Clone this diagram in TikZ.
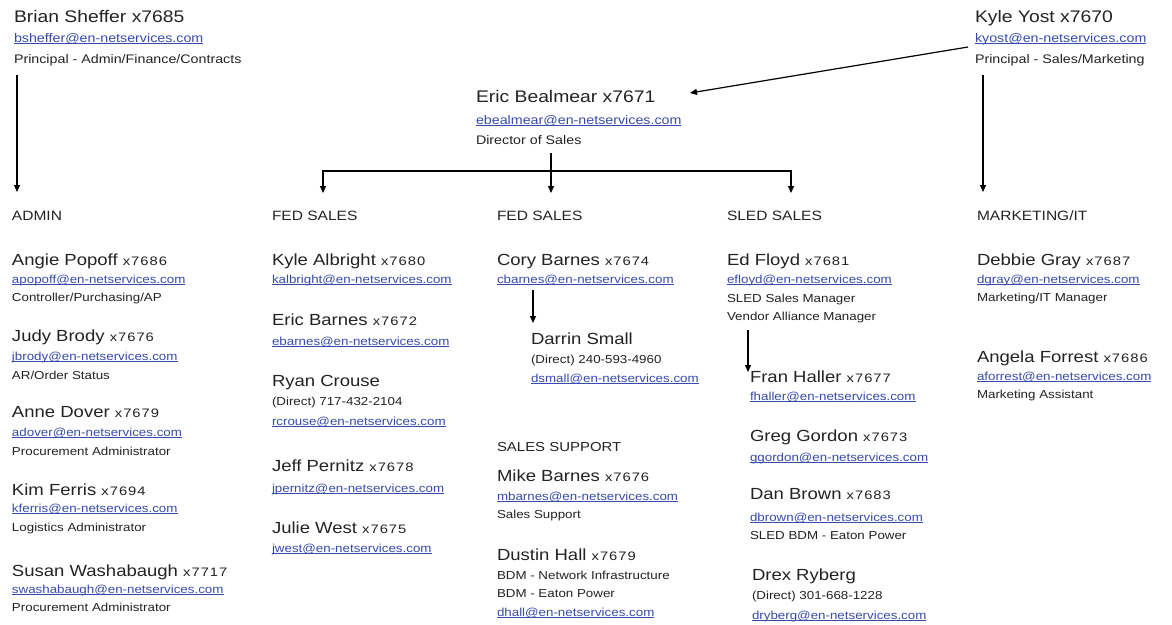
\documentclass[tikz,border=0pt]{standalone}
\usepackage{fontspec}
\setmainfont{Liberation Sans}[FakeStretch=1.15]
\newfontfamily\extfont{Liberation Sans}[FakeStretch=1.2,LetterSpace=8]
\usetikzlibrary{arrows.meta,calc}
\definecolor{txt}{RGB}{35,35,35}
\definecolor{lnk}{RGB}{55,75,170}
\newcommand{\extn}[1]{{\extfont\fontsize{12.3}{14}\selectfont #1}}
\newcommand{\mailto}[1]{\underline{\smash{#1}}}
\tikzset{
  basetext/.style={anchor=base west, inner sep=0pt, outer sep=0pt, text=txt},
  bigname/.style={basetext, font=\fontsize{16.8}{20}\selectfont},
  pname/.style={basetext, font=\fontsize{16.1}{18}\selectfont},
  topline/.style={basetext, font=\fontsize{12.4}{14}\selectfont},
  subline/.style={basetext, font=\fontsize{11.6}{14}\selectfont},
  mail/.style={text=lnk},
  dept/.style={basetext, font=\fontsize{13.5}{16}\selectfont},
  conn/.style={draw=black, line width=1.2pt, -{Triangle[length=7pt,width=6pt]}},
  conn2/.style={draw=black, line width=1.2pt, {Triangle[length=7pt,width=6pt]}-{Triangle[length=7pt,width=6pt]}},
}
\begin{document}
\begin{tikzpicture}[x=1pt,y=-1pt]
\useasboundingbox[fill=white] (0,0) rectangle (1172,624);

% ---- top level
\node[bigname] (bn) at (14,22) {Brian Sheffer x7685};
\node[topline,mail] (be) at (14,42) {\mailto{bsheffer@en-netservices.com}};
\node[topline] (bt) at (14,63) {Principal - Admin/Finance/Contracts};

\node[bigname] (kn) at (975,22) {Kyle Yost x7670};
\node[topline,mail] (ke) at (975,42) {\mailto{kyost@en-netservices.com}};
\node[topline] (kt) at (975,63) {Principal - Sales/Marketing};

\node[bigname] (en) at (476,102) {Eric Bealmear x7671};
\node[topline,mail] (ee) at (476,124) {\mailto{ebealmear@en-netservices.com}};
\node[topline] (et) at (476,144) {Director of Sales};

% ---- departments
\node[dept] (hadm) at (12,220) {ADMIN};
\node[dept] (hfed1) at (272,220) {FED SALES};
\node[dept] (hfed2) at (497,220) {FED SALES};
\node[dept] (hsled) at (727,220) {SLED SALES};
\node[dept] (hmkt) at (977,220) {MARKETING/IT};

% ---- ADMIN
\node[pname] (apn) at (12,265) {Angie Popoff \extn{x7686}};
\node[subline,mail] (ape) at (12,283) {\mailto{apopoff@en-netservices.com}};
\node[subline] (apt) at (12,301) {Controller/Purchasing/AP};

\node[pname] (jbn) at (12,341) {Judy Brody \extn{x7676}};
\node[subline,mail] (jbe) at (12,360) {\mailto{jbrody@en-netservices.com}};
\node[subline] (jbt) at (12,379) {AR/Order Status};

\node[pname] (adn) at (12,417) {Anne Dover \extn{x7679}};
\node[subline,mail] (ade) at (12,436) {\mailto{adover@en-netservices.com}};
\node[subline] (adt) at (12,455) {Procurement Administrator};

\node[pname] (kfn) at (12,495) {Kim Ferris \extn{x7694}};
\node[subline,mail] (kfe) at (12,512) {\mailto{kferris@en-netservices.com}};
\node[subline] (kft) at (12,531) {Logistics Administrator};

\node[pname] (swn) at (12,576) {Susan Washabaugh \extn{x7717}};
\node[subline,mail] (swe) at (12,593) {\mailto{swashabaugh@en-netservices.com}};
\node[subline] (swt) at (12,611) {Procurement Administrator};

% ---- FED SALES 1
\node[pname] (kan) at (272,265) {Kyle Albright \extn{x7680}};
\node[subline,mail] (kae) at (272,283) {\mailto{kalbright@en-netservices.com}};

\node[pname] (ebn) at (272,325) {Eric Barnes \extn{x7672}};
\node[subline,mail] (ebe) at (272,345) {\mailto{ebarnes@en-netservices.com}};

\node[pname] (rcn) at (272,386) {Ryan Crouse};
\node[subline] (rcd) at (272,405) {(Direct) 717-432-2104};
\node[subline,mail] (rce) at (272,425) {\mailto{rcrouse@en-netservices.com}};

\node[pname] (jpn) at (272,471) {Jeff Pernitz \extn{x7678}};
\node[subline,mail] (jpe) at (272,492) {\mailto{jpernitz@en-netservices.com}};

\node[pname] (jwn) at (272,533) {Julie West \extn{x7675}};
\node[subline,mail] (jwe) at (272,552) {\mailto{jwest@en-netservices.com}};

% ---- FED SALES 2
\node[pname] (cbn) at (497,265) {Cory Barnes \extn{x7674}};
\node[subline,mail] (cbe) at (497,283) {\mailto{cbarnes@en-netservices.com}};

\node[pname] (dsn) at (531,344) {Darrin Small};
\node[subline] (dsd) at (531,363) {(Direct) 240-593-4960};
\node[subline,mail] (dse) at (531,382) {\mailto{dsmall@en-netservices.com}};

\node[subline, font=\fontsize{13}{15}\selectfont] (hss) at (497,451) {SALES SUPPORT};

\node[pname] (mbn) at (497,481) {Mike Barnes \extn{x7676}};
\node[subline,mail] (mbe) at (497,500) {\mailto{mbarnes@en-netservices.com}};
\node[subline] (mbt) at (497,518) {Sales Support};

\node[pname] (dhn) at (497,560) {Dustin Hall \extn{x7679}};
\node[subline] (dht1) at (497,579) {BDM - Network Infrastructure};
\node[subline] (dht2) at (497,597) {BDM - Eaton Power};
\node[subline,mail] (dhe) at (497,616) {\mailto{dhall@en-netservices.com}};

% ---- SLED SALES
\node[pname] (efn) at (727,265) {Ed Floyd \extn{x7681}};
\node[subline,mail] (efe) at (727,283) {\mailto{efloyd@en-netservices.com}};
\node[subline] (eft1) at (727,302) {SLED Sales Manager};
\node[subline] (eft2) at (727,320) {Vendor Alliance Manager};

\node[pname] (fhn) at (750,382) {Fran Haller \extn{x7677}};
\node[subline,mail] (fhe) at (750,400) {\mailto{fhaller@en-netservices.com}};

\node[pname] (ggn) at (750,441) {Greg Gordon \extn{x7673}};
\node[subline,mail] (gge) at (750,461) {\mailto{ggordon@en-netservices.com}};

\node[pname] (dbn) at (750,499) {Dan Brown \extn{x7683}};
\node[subline,mail] (dbe) at (750,521) {\mailto{dbrown@en-netservices.com}};
\node[subline] (dbt) at (750,539) {SLED BDM - Eaton Power};

\node[pname] (drn) at (752,580) {Drex Ryberg};
\node[subline] (drd) at (752,599) {(Direct) 301-668-1228};
\node[subline,mail] (dre) at (752,619) {\mailto{dryberg@en-netservices.com}};

% ---- MARKETING/IT
\node[pname] (dgn) at (977,265) {Debbie Gray \extn{x7687}};
\node[subline,mail] (dge) at (977,283) {\mailto{dgray@en-netservices.com}};
\node[subline] (dgt) at (977,301) {Marketing/IT Manager};

\node[pname] (afn) at (977,362) {Angela Forrest \extn{x7686}};
\node[subline,mail] (afe) at (977,380) {\mailto{aforrest@en-netservices.com}};
\node[subline] (aft) at (977,398) {Marketing Assistant};

% ---- connectors
\draw[conn] ($(bt.base west)+(3,12)$) -- ($(hadm.base west)+(5,-28)$);
\draw[conn] ($(kt.base west)+(8,12)$) -- ($(hmkt.base west)+(6,-28)$);
\draw[conn] ($(ke.base west)+(-7,5)$) -- ($(en.base west)+(214,-9)$);
\draw[conn] ($(et.base west)+(75,9)$) -- ($(hfed2.base west)+(54,-27)$);
\draw[conn2] ($(hfed1.base west)+(51,-27)$) -- ++(0,-22) -| ($(hsled.base west)+(64,-27)$);
\draw[conn] ($(cbe.base west)+(36,7)$) -- ($(dsn.base west)+(2,-21)$);
\draw[conn] ($(eft2.base west)+(21,10)$) -- ($(fhn.base west)+(-2,-10)$);
\end{tikzpicture}
\end{document}
